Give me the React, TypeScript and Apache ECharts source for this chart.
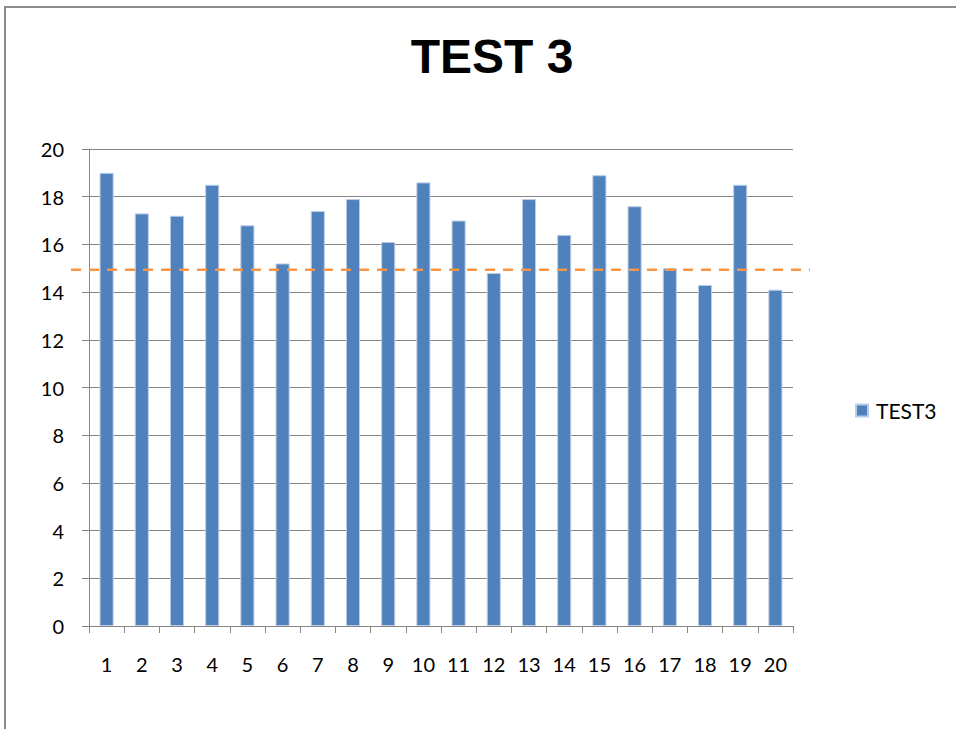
import React, { useEffect, useRef } from "react";
import * as echarts from "echarts";

const categories = ["1","2","3","4","5","6","7","8","9","10","11","12","13","14","15","16","17","18","19","20"];
const test3Values = [19, 17.3, 17.2, 18.5, 16.8, 15.2, 17.4, 17.9, 16.1, 18.6, 17.0, 14.8, 17.9, 16.4, 18.9, 17.6, 15.0, 14.3, 18.5, 14.1];
const thresholdValue = 14.94;
const titleText = "TEST 3";
const seriesName = "TEST3";

export default function App() {
  const ref = useRef<HTMLDivElement>(null);
  useEffect(() => {
    if (!ref.current) return;
    const chart = echarts.init(ref.current, null, { renderer: "svg" });
    const font = "Lato, 'Open Sans', sans-serif";
    chart.setOption({
      animation: false,
      backgroundColor: "#ffffff",
      title: {
        text: titleText,
        left: 487,
        textAlign: "center",
        top: 27,
        textStyle: { fontFamily: "'Liberation Sans', Arial, sans-serif", fontWeight: "bold", fontSize: 48, color: "#000" },
      },
      legend: {
        data: [seriesName],
        left: 855,
        top: 400,
        padding: 0,
        icon: "rect",
        itemWidth: 12,
        itemHeight: 12,
        itemGap: 8,
        textStyle: { fontFamily: font, fontSize: 21, color: "#000", padding: [0, 0, 0, 3] },
      },
      grid: { left: 89, top: 149, right: 163, bottom: 103, containLabel: false },
      xAxis: {
        type: "category",
        data: categories,
        boundaryGap: true,
        axisLine: { lineStyle: { color: "#868686", width: 1 } },
        axisTick: { show: true, length: 7, alignWithLabel: false, lineStyle: { color: "#868686" } },
        axisLabel: { fontFamily: font, fontSize: 20, color: "#000", margin: 28, interval: 0 },
      },
      yAxis: {
        type: "value",
        min: 0,
        max: 20,
        interval: 2,
        axisLine: { show: true, lineStyle: { color: "#868686", width: 1 } },
        axisTick: { show: true, length: 7, lineStyle: { color: "#868686" } },
        axisLabel: { fontFamily: font, fontSize: 20, color: "#000", margin: 25 },
        splitLine: { show: true, lineStyle: { color: "#868686", width: 1.2 } },
      },
      series: [
        {
          name: seriesName,
          type: "bar",
          data: test3Values,
          barWidth: "40%",
          itemStyle: { color: "#4F81BD", borderColor: "#b9cde5", borderWidth: 1 },
        },
      ],
    });
    const y = chart.convertToPixel({ yAxisIndex: 0 }, thresholdValue) as number;
    chart.setOption({
      graphic: [
        {
          type: "polyline",
          shape: { points: [[5, 760], [5, 7], [990, 7]] },
          style: { stroke: "#8c8c8c", lineWidth: 2, fill: "none" },
          silent: true,
        },
        {
          type: "line",
          shape: { x1: 71, y1: y, x2: 810, y2: y },
          style: { stroke: "#F79646", lineWidth: 2.5, lineDash: [10, 8] },
          silent: true,
          z: 10,
        },
      ],
    });
    return () => chart.dispose();
  }, []);
  return <div ref={ref} style={{ position: "fixed", left: 0, top: 0, width: 956, height: 729 }} />;
}
